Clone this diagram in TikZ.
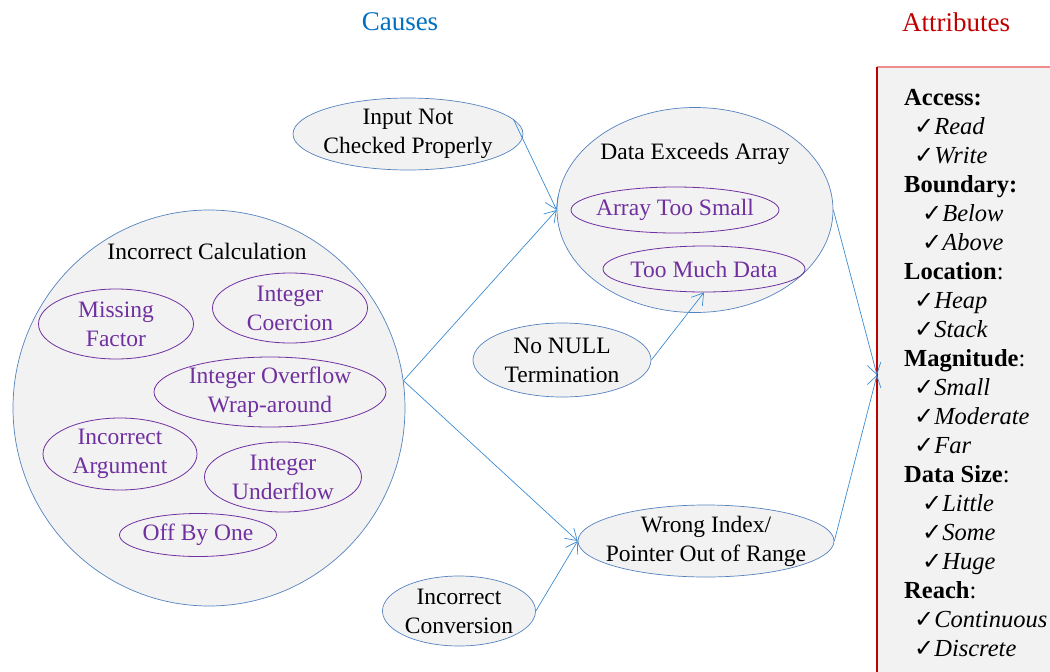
\documentclass[tikz,border=0pt]{standalone}
\usepackage{fontspec}
\setmainfont{Liberation Serif}
\newfontfamily\symfont{DejaVu Sans}
\usetikzlibrary{shapes.geometric,arrows.meta}
\definecolor{eblue}{RGB}{84,130,190}
\definecolor{ablue}{RGB}{60,140,210}
\definecolor{efill}{RGB}{242,242,242}
\definecolor{epurple}{RGB}{112,48,160}
\definecolor{tblue}{RGB}{0,112,192}
\definecolor{tred}{RGB}{192,0,0}
\definecolor{pinkred}{RGB}{240,140,140}
\newcommand{\ck}{{\symfont\fontsize{24}{29}\selectfont ✓}}
\begin{document}
\begin{tikzpicture}[x=1pt,y=-1pt,
  font=\fontsize{23.5}{29}\selectfont,
  cause/.style={ellipse,draw=eblue,fill=efill,line width=0.7pt,inner sep=0pt},
  sub/.style={ellipse,draw=epurple,line width=0.8pt,inner sep=0pt},
  ctext/.style={align=center,inner sep=0pt,text=black},
  stext/.style={align=center,inner sep=0pt,text=epurple},
  conn/.style={draw=ablue,line width=0.7pt,-{Straight Barb[length=11pt,width=14pt,line width=0.7pt]}},
  attr/.style={anchor=base west,inner sep=0pt,font=\fontsize{24.5}{29}\selectfont}
]
\useasboundingbox (0,0) rectangle (1050,672);
% titles
\node[text=tblue,font=\fontsize{27}{30}\selectfont] (causes) at (400,22) {Causes};
\node[text=tred,font=\fontsize{27}{30}\selectfont] (attrs) at (956,22) {Attributes};
% attribute box
\fill[efill] (877,67) rectangle (1050,672);
\draw[pinkred,line width=1.2pt] (877,67) -- (1050,67);
\draw[tred,line width=1.2pt] (877,672) -- (877,67);
\coordinate (ain) at (877,375);
% big circle
\node[cause,minimum width=392,minimum height=396] (calc) at (209,408) {};
\node[ctext] (calct) at (207,251) {Incorrect Calculation};
\node[sub,minimum width=155,minimum height=70] (mf) at (116,324) {};
\node[stext] (mft) at (mf) {Missing\\Factor};
\node[sub,minimum width=155,minimum height=70] (ic) at (290,308) {};
\node[stext] (ict) at (ic) {Integer\\Coercion};
\node[sub,minimum width=232,minimum height=70] (io) at (270,392) {};
\node[stext] (iot) at (io) {Integer Overflow\\Wrap-around};
\node[sub,minimum width=154,minimum height=72] (ia) at (120,454) {};
\node[stext] (iat) at (ia) {Incorrect\\Argument};
\node[sub,minimum width=157,minimum height=70] (iu) at (283,477) {};
\node[stext] (iut) at (iu) {Integer\\Underflow};
\node[sub,minimum width=157,minimum height=43] (obo) at (198,535) {};
\node[stext] (obot) at (obo) {Off By One};
% other causes
\node[cause,minimum width=230,minimum height=72] (inp) at (408,134) {};
\node[ctext] (inpt) at (inp) {Input Not\\Checked Properly};
\node[cause,minimum width=276,minimum height=205] (dea) at (695,210) {};
\node[ctext] (deat) at (695,154) {Data Exceeds Array};
\node[sub,minimum width=208,minimum height=46] (ats) at (675,210) {};
\node[stext] (atst) at (ats) {Array Too Small};
\node[sub,minimum width=202,minimum height=46] (tmd) at (704,269) {};
\node[stext] (tmdt) at (tmd) {Too Much Data};
\node[cause,minimum width=178,minimum height=74] (nul) at (562,360) {};
\node[ctext] (nult) at (nul) {No NULL\\Termination};
\node[cause,minimum width=256,minimum height=72] (wi) at (706,541) {};
\node[ctext] (wit) at (wi) {Wrong Index/\\Pointer Out of Range};
\node[cause,minimum width=153,minimum height=70] (conv) at (459,611) {};
\node[ctext] (convt) at (conv) {Incorrect\\Conversion};
% connectors
\draw[conn] (inp.8) -- (dea.west);
\draw[conn] (calc.8) -- (dea.west);
\draw[conn] (calc.8) -- (wi.west);
\draw[conn] (nul.east) -- (tmd.south);
\draw[conn] (conv.east) -- (wi.west);
\draw[conn] (dea.east) -- (ain);
\draw[conn] (wi.east) -- (ain);
% attributes
\node[attr] (a1) at (904,105) {\textbf{Access:}};
\node[attr] (a2) at (914,134) {\ck\textit{Read}};
\node[attr] (a3) at (914,163) {\ck\textit{Write}};
\node[attr] (a4) at (904,192) {\textbf{Boundary:}};
\node[attr] (a5) at (922,221) {\ck\textit{Below}};
\node[attr] (a6) at (922,250) {\ck\textit{Above}};
\node[attr] (a7) at (904,279) {\textbf{Location}:};
\node[attr] (a8) at (914,308) {\ck\textit{Heap}};
\node[attr] (a9) at (914,337) {\ck\textit{Stack}};
\node[attr] (a10) at (904,366) {\textbf{Magnitude}:};
\node[attr] (a11) at (914,395) {\ck\textit{Small}};
\node[attr] (a12) at (914,424) {\ck\textit{Moderate}};
\node[attr] (a13) at (914,453) {\ck\textit{Far}};
\node[attr] (a14) at (904,482) {\textbf{Data Size}:};
\node[attr] (a15) at (922,511) {\ck\textit{Little}};
\node[attr] (a16) at (922,540) {\ck\textit{Some}};
\node[attr] (a17) at (922,569) {\ck\textit{Huge}};
\node[attr] (a18) at (904,598) {\textbf{Reach}:};
\node[attr] (a19) at (914,627) {\ck\textit{Continuous}};
\node[attr] (a20) at (914,656) {\ck\textit{Discrete}};
\end{tikzpicture}
\end{document}
